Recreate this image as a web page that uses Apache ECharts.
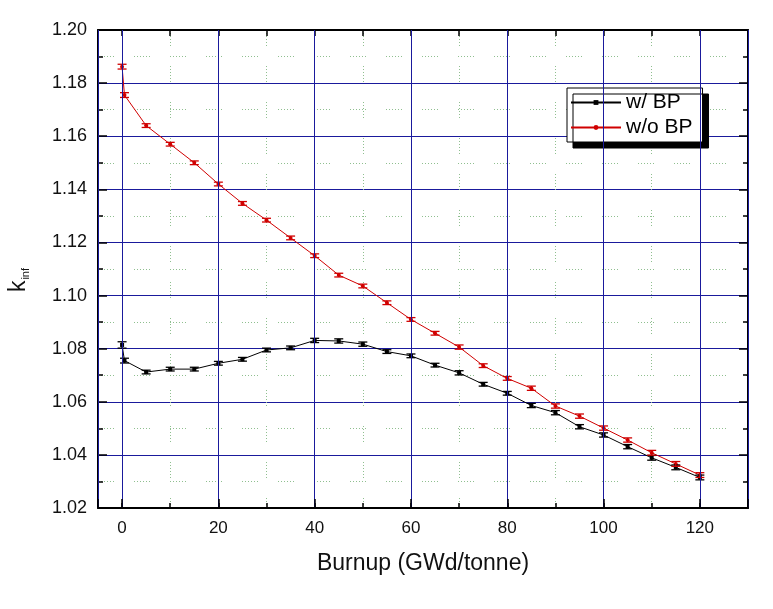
<!DOCTYPE html>
<html>
<head>
<meta charset="utf-8">
<script src="https://cdn.jsdelivr.net/npm/echarts@6/dist/echarts.min.js"></script>
<style>
  html, body { margin: 0; padding: 0; background: #fff; }
  #chart { width: 773px; height: 609px; }
</style>
</head>
<body>
<div id="chart"></div>
<script>
// burnup steps (GWd/tonne)
const burnup = [0, 0.5, 5, 10, 15, 20, 25, 30, 35, 40, 45, 50, 55, 60, 65, 70, 75, 80, 85, 90, 95, 100, 105, 110, 115, 120]

// k-inf with burnable poison
const kWithBP = [1.0814, 1.0755, 1.0712, 1.0723, 1.0723, 1.0745, 1.0760, 1.0795, 1.0803, 1.0831, 1.0829, 1.0817, 1.0789,
  1.0773, 1.0738, 1.0709, 1.0666, 1.0632, 1.0586, 1.0559, 1.0506, 1.0475, 1.0431, 1.0389, 1.0353, 1.0315]
const errWithBP = [0.0012, 0.0009, 0.0007, 0.0007, 0.0007, 0.0007, 0.0007, 0.0007, 0.0007, 0.0008, 0.0008, 0.0008, 0.0007,
  0.0007, 0.0007, 0.0008, 0.0007, 0.0007, 0.0008, 0.0008, 0.0008, 0.0008, 0.0008, 0.0009, 0.0009, 0.0009]

// k-inf without burnable poison
const kWithoutBP = [1.1862, 1.1755, 1.1640, 1.1570, 1.1500, 1.1420, 1.1347, 1.1284, 1.1217, 1.1150, 1.1077, 1.1036, 1.0973,
  1.0910, 1.0858, 1.0806, 1.0736, 1.0688, 1.0651, 1.0584, 1.0546, 1.0501, 1.0456, 1.0408, 1.0366, 1.0324]
const errWithoutBP = [0.0009, 0.0009, 0.0007, 0.0007, 0.0007, 0.0007, 0.0007, 0.0007, 0.0007, 0.0007, 0.0007, 0.0007, 0.0007,
  0.0007, 0.0007, 0.0008, 0.0007, 0.0007, 0.0008, 0.0008, 0.0008, 0.0008, 0.0008, 0.0009, 0.0009, 0.0009]

const seriesNames = ['w/ BP', 'w/o BP']
const colors = ['#000000', '#d00000']

const xMin = -5, xMax = 130
const yMin = 1.02, yMax = 1.20, yStep = 0.02

const chart = echarts.init(document.getElementById('chart'), null, { renderer: 'canvas' })

function pairs(xs, ys) {
  return xs.map((x, i) => [x, ys[i]])
}
function bars(xs, ys, es) {
  return xs.map((x, i) => [x, ys[i] - es[i], ys[i] + es[i]])
}

function renderErr(color) {
  return function (params, api) {
    const x = api.value(0)
    const lo = api.coord([x, api.value(1)])
    const hi = api.coord([x, api.value(2)])
    const half = 4.5
    const st = { stroke: color, lineWidth: 1.3 }
    return {
      type: 'group',
      children: [
        { type: 'line', shape: { x1: lo[0], y1: lo[1], x2: hi[0], y2: hi[1] }, style: st },
        { type: 'line', shape: { x1: lo[0] - half, y1: lo[1], x2: lo[0] + half, y2: lo[1] }, style: st },
        { type: 'line', shape: { x1: hi[0] - half, y1: hi[1], x2: hi[0] + half, y2: hi[1] }, style: st }
      ]
    }
  }
}

const fontFamily = '"Liberation Sans", Arial, sans-serif'
const dotted = [1, 2, 1, 2, 1, 2, 1, 2, 1, 2, 1, 20]
const minorLine = { show: true, lineStyle: { color: '#8fbf8f', width: 1, type: dotted } }
const frame = { show: true, onZero: false, lineStyle: { color: '#000', width: 2 } }
const tick = len => ({ show: true, inside: true, length: len, lineStyle: { color: '#000', width: 1.5 } })

const option = {
  backgroundColor: '#ffffff',
  animation: false,
  textStyle: { fontFamily: fontFamily },
  grid: { left: 98, right: 25, top: 30, bottom: 101 },
  legend: {
    data: seriesNames,
    orient: 'vertical',
    left: 567,
    top: 88,
    padding: [4, 10, 4, 3],
    itemGap: 4,
    itemWidth: 50,
    itemHeight: 6,
    backgroundColor: '#ffffff',
    borderColor: '#000000',
    borderWidth: 1,
    borderRadius: 0,
    shadowColor: '#000000',
    shadowBlur: 0,
    shadowOffsetX: 6,
    shadowOffsetY: 6,
    textStyle: { fontSize: 21, color: '#000', fontFamily: fontFamily }
  },
  xAxis: [
    {
      // major ticks every 20, labels, blue grid
      type: 'value',
      min: xMin,
      max: xMax,
      splitNumber: 7,
      name: 'Burnup (GWd/tonne)',
      nameLocation: 'middle',
      nameGap: 44,
      nameTextStyle: { fontSize: 23, color: '#111' },
      axisLine: frame,
      axisTick: tick(9),
      axisLabel: {
        fontSize: 17, color: '#111', margin: 12,
        formatter: v => (v % 20 === 0 ? String(v) : '')
      },
      splitLine: { show: true, lineStyle: { color: '#1a1a9c', width: 1 } },
      z: 5
    },
    {
      // minor ticks every 10 and dotted grid
      type: 'value',
      position: 'bottom',
      min: xMin,
      max: xMax,
      splitNumber: 14,
      axisLine: { show: false },
      axisTick: tick(5),
      axisLabel: { show: false },
      splitLine: minorLine
    },
    {
      type: 'value',
      position: 'top',
      min: xMin,
      max: xMax,
      splitNumber: 14,
      axisLine: frame,
      axisTick: tick(6),
      axisLabel: { show: false },
      splitLine: { show: false }
    }
  ],
  yAxis: [
    {
      type: 'value',
      min: yMin,
      max: yMax,
      interval: yStep,
      axisLine: frame,
      axisTick: tick(9),
      minorTick: { show: true, splitNumber: 2, length: 5, lineStyle: { color: '#000', width: 1.5 } },
      axisLabel: { fontSize: 18, color: '#111', margin: 11, formatter: v => v.toFixed(2) },
      splitLine: { show: true, lineStyle: { color: '#1a1a9c', width: 1 } },
      minorSplitLine: minorLine
    },
    {
      type: 'value',
      position: 'right',
      min: yMin,
      max: yMax,
      interval: yStep,
      axisLine: frame,
      axisTick: tick(9),
      minorTick: { show: true, splitNumber: 2, length: 5, lineStyle: { color: '#000', width: 1.5 } },
      axisLabel: { show: false },
      splitLine: { show: false }
    }
  ],
  graphic: [
    {
      type: 'text',
      left: 7,
      top: 268,
      rotation: Math.PI / 2,
      style: {
        text: '{k|k}{s|inf}',
        rich: {
          k: { fontSize: 23, fill: '#111', fontFamily: fontFamily },
          s: { fontSize: 11, fill: '#111', fontFamily: fontFamily, padding: [14, 0, 0, 1] }
        }
      }
    }
  ],
  series: [
    {
      name: seriesNames[0],
      type: 'line',
      data: pairs(burnup, kWithBP),
      color: colors[0],
      symbol: 'rect',
      symbolSize: 4,
      lineStyle: { width: 1, color: colors[0] },
      itemStyle: { color: colors[0] },
      z: 3
    },
    {
      name: seriesNames[1],
      type: 'line',
      data: pairs(burnup, kWithoutBP),
      color: colors[1],
      symbol: 'circle',
      symbolSize: 4,
      lineStyle: { width: 1, color: colors[1] },
      itemStyle: { color: colors[1] },
      z: 3
    },
    {
      type: 'custom',
      data: bars(burnup, kWithBP, errWithBP),
      encode: { x: 0, y: [1, 2] },
      renderItem: renderErr(colors[0]),
      z: 4
    },
    {
      type: 'custom',
      data: bars(burnup, kWithoutBP, errWithoutBP),
      encode: { x: 0, y: [1, 2] },
      renderItem: renderErr(colors[1]),
      z: 4
    }
  ]
}

chart.setOption(option)
</script>
</body>
</html>
